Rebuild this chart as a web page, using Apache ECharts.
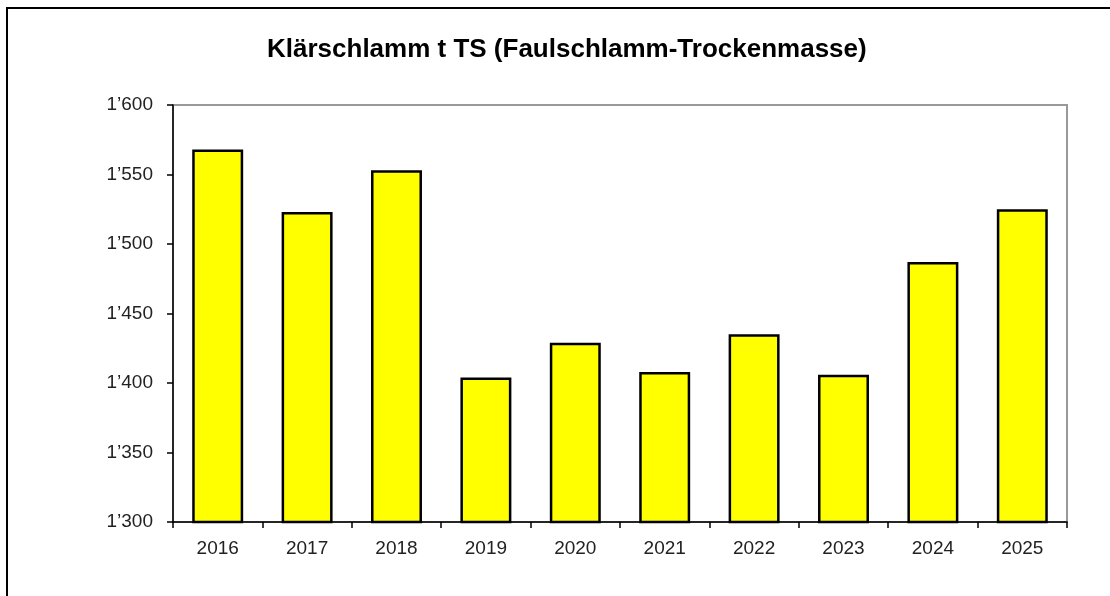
<!DOCTYPE html>
<html>
<head>
<meta charset="utf-8">
<script src="https://cdn.jsdelivr.net/npm/echarts@6/dist/echarts.min.js"></script>
<style>
  html, body { margin: 0; padding: 0; background: #fff; }
  #chart { width: 1110px; height: 596px; }
</style>
</head>
<body>
<div id="chart"></div>
<script>
// Daten
var years = ['2016', '2017', '2018', '2019', '2020', '2021', '2022', '2023', '2024', '2025'];
var sludgeTS = [1568, 1523, 1553, 1404, 1429, 1408, 1435, 1406, 1487, 1525];
var yTicks = [1300, 1350, 1400, 1450, 1500, 1550, 1600];

// 1'600 Schreibweise
function fmtThousand(v) {
    var s = String(Math.round(v));
    if (s.length <= 3) return s;
    return s.slice(0, s.length - 3) + '\u2019' + s.slice(s.length - 3);
}

var font = 'Liberation Sans, Arial, sans-serif';
var myChart = echarts.init(document.getElementById('chart'));
var option = {
    backgroundColor: '#fff',
    animation: false,
    textStyle: { fontFamily: font },
    title: {
        text: 'Klärschlamm t TS (Faulschlamm-Trockenmasse)',
        left: 262,
        top: 32,
        textStyle: {
            fontFamily: font,
            fontSize: 26,
            fontWeight: 'bold',
            color: '#000'
        }
    },
    // äusserer Rahmen
    graphic: [{
        type: 'rect',
        shape: { x: 7, y: 8, width: 1200, height: 700 },
        style: { fill: 'none', stroke: '#000', lineWidth: 2 },
        silent: true
    }],
    grid: {
        left: 173, right: 43, top: 105, bottom: 74,
        show: true,
        borderColor: '#999',
        borderWidth: 2,
        backgroundColor: '#fff'
    },
    xAxis: {
        type: 'category',
        data: years,
        axisLine: { lineStyle: { color: '#000', width: 1.5 } },
        axisTick: { show: true, length: 6, lineStyle: { color: '#000', width: 1.5 } },
        axisLabel: { fontSize: 19, color: '#222', margin: 17 }
    },
    yAxis: {
        type: 'value',
        min: yTicks[0],
        max: yTicks[yTicks.length - 1],
        interval: 50,
        splitLine: { show: false },
        axisLine: { show: true, lineStyle: { color: '#000', width: 1.5 } },
        axisTick: { show: true, length: 6, lineStyle: { color: '#000', width: 1.5 } },
        axisLabel: { fontSize: 19, color: '#222', margin: 20, formatter: fmtThousand }
    },
    series: [{
        name: 'Klärschlamm t TS',
        type: 'bar',
        data: sludgeTS,
        barWidth: '57%',
        itemStyle: {
            color: '#ffff00',
            borderColor: '#000',
            borderWidth: 2.5
        }
    }]
};
myChart.setOption(option);
</script>
</body>
</html>
